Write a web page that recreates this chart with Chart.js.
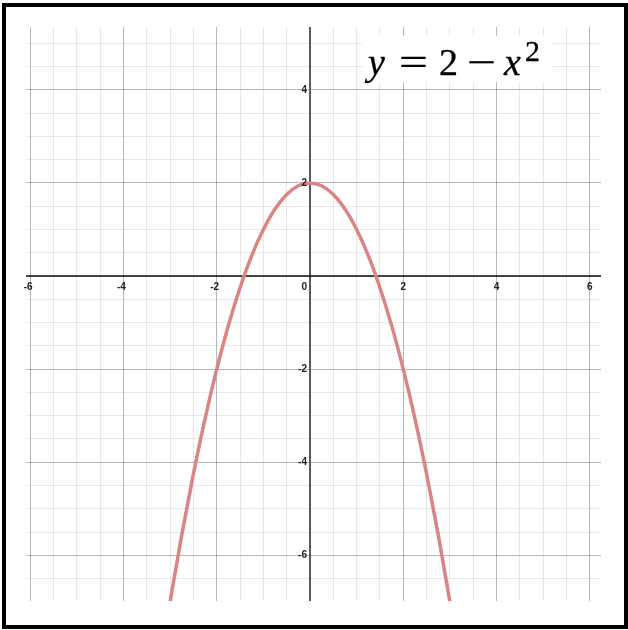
<!DOCTYPE html>
<html>
<head>
<meta charset="utf-8">
<script src="https://cdn.jsdelivr.net/npm/chart.js@4"></script>
<style>
  html, body { margin: 0; padding: 0; background: #fff; }
  #wrap { position: relative; width: 628px; height: 630px; }
  #frame {
    position: absolute; left: 2px; top: 3px;
    width: 618px; height: 618px;
    border: 4px solid #000;
  }
  #eq {
    position: absolute; left: 362px; top: 36px;
    width: 190px; height: 46px;
    background: #fff;
    font-family: "Liberation Serif", "DejaVu Serif", serif;
    color: #000;
    -webkit-text-stroke: 0.3px #000;
  }
  #eq span { position: absolute; top: 7px; font-size: 38px; line-height: 38px; white-space: nowrap; }
  #eq span.op { transform: scaleX(1.35); transform-origin: left center; }
  #eq span.sup { top: 0px; font-size: 30px; line-height: 30px; }
</style>
</head>
<body>
<div id="wrap">
  <canvas id="graph" width="628" height="630"></canvas>
  <div id="eq"><span style="left:6px"><i>y</i></span><span class="op" style="left:37px">=</span><span style="left:77px">2</span><span class="op" style="left:105px">&minus;</span><span style="left:142px"><i>x</i></span><span class="sup" style="left:163px">2</span></div>
  <div id="frame"></div>
</div>
<script>
// ====================
// Data
// ====================
const curveX = [-3, -2.75, -2.5, -2.25, -2, -1.75, -1.5, -1.25, -1, -0.75, -0.5, -0.25, 0,
                0.25, 0.5, 0.75, 1, 1.25, 1.5, 1.75, 2, 2.25, 2.5, 2.75, 3];
const curveY = [-7, -5.56, -4.25, -3.06, -2, -1.06, -0.25, 0.44, 1, 1.44, 1.75, 1.94, 2,
                1.94, 1.75, 1.44, 1, 0.44, -0.25, -1.06, -2, -3.06, -4.25, -5.56, -7];
const xTickLabels = [-6, -4, -2, 0, 2, 4, 6];
const yTickLabels = [-6, -4, -2, 2, 4];

const xMin = -6.09, xMax = 6.24;
const yMin = -6.98, yMax = 5.35;
const minorStep = 0.5;

// ====================
// Grid helpers
// ====================
function gridTicks(min, max) {
    const ticks = [];
    for (let v = Math.ceil(min / minorStep) * minorStep; v <= max; v += minorStep) {
        ticks.push({ value: Math.round(v * 100) / 100 });
    }
    return ticks;
}
const gridColor = ctx => (ctx.tick && ctx.tick.value % 2 === 0) ? "rgba(0,0,0,0.28)" : "rgba(0,0,0,0.085)";

// ====================
// Axes and labels plugin
// ====================
const axesPlugin = {
    id: "axes",
    beforeDatasetsDraw(chart) {
        const { ctx, chartArea: a, scales: { x, y } } = chart;
        const x0 = x.getPixelForValue(0);
        const y0 = y.getPixelForValue(0);
        ctx.save();
        ctx.strokeStyle = "#5a5a5a";
        ctx.lineWidth = 2;
        ctx.beginPath();
        ctx.moveTo(x0, a.top);
        ctx.lineTo(x0, a.bottom);
        ctx.stroke();
        ctx.strokeStyle = "#111";
        ctx.lineWidth = 1.6;
        ctx.beginPath();
        ctx.moveTo(a.left, y0);
        ctx.lineTo(a.right, y0);
        ctx.stroke();
        ctx.restore();
    },
    afterDatasetsDraw(chart) {
        const { ctx, scales: { x, y } } = chart;
        const x0 = x.getPixelForValue(0);
        const y0 = y.getPixelForValue(0);
        ctx.save();
        ctx.fillStyle = "#222";
        ctx.font = "bold 10px 'Liberation Sans', Arial, sans-serif";
        ctx.textBaseline = "top";
        xTickLabels.forEach(v => {
            const px = x.getPixelForValue(v);
            if (v === 0) {
                ctx.textAlign = "right";
                ctx.fillText("0", x0 - 3, y0 + 6);
            } else {
                ctx.textAlign = "center";
                ctx.fillText(String(v), px - (v < 0 ? 2 : 0), y0 + 6);
            }
        });
        ctx.textAlign = "right";
        ctx.textBaseline = "middle";
        yTickLabels.forEach(v => {
            ctx.fillText(String(v), x0 - 3, y.getPixelForValue(v));
        });
        ctx.restore();
    }
};

// ====================
// Chart
// ====================
const points = curveX.map((v, i) => ({ x: v, y: curveY[i] }));

new Chart(document.getElementById("graph").getContext("2d"), {
    type: "line",
    data: {
        datasets: [{
            data: points,
            borderColor: "#d98583",
            borderWidth: 3.5,
            pointRadius: 0,
            cubicInterpolationMode: "monotone",
            fill: false
        }]
    },
    options: {
        responsive: false,
        animation: false,
        layout: { padding: { left: 26, top: 27, right: 27, bottom: 29 } },
        plugins: { legend: { display: false }, tooltip: { enabled: false } },
        scales: {
            x: {
                type: "linear", min: xMin, max: xMax,
                afterBuildTicks: s => { s.ticks = gridTicks(xMin, xMax); },
                ticks: { display: false },
                grid: { color: gridColor, lineWidth: 1, drawTicks: false },
                border: { display: false }
            },
            y: {
                type: "linear", min: yMin, max: yMax,
                afterBuildTicks: s => { s.ticks = gridTicks(yMin, yMax); },
                ticks: { display: false },
                grid: { color: gridColor, lineWidth: 1, drawTicks: false },
                border: { display: false }
            }
        }
    },
    plugins: [axesPlugin]
});
</script>
</body>
</html>
